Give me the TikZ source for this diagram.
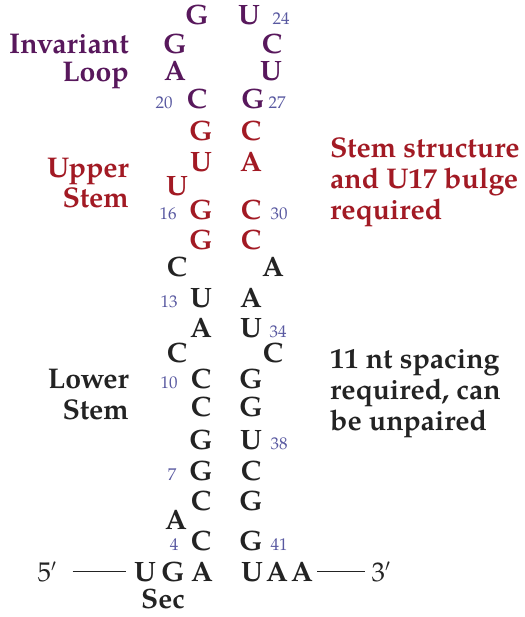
\documentclass[tikz,border=0pt]{standalone}
\usepackage{fontspec}
\setmainfont{TeX Gyre Pagella}
\definecolor{loopc}{RGB}{88,24,92}
\definecolor{stemc}{RGB}{162,26,36}
\definecolor{blk}{RGB}{35,35,35}
\definecolor{numc}{RGB}{88,88,160}
\tikzset{
  nt/.style={anchor=base, inner sep=0pt, font=\fontsize{28}{32}\selectfont\bfseries, text=blk},
  lp/.style={nt, text=loopc},
  rd/.style={nt, text=stemc},
  num/.style={anchor=base, inner sep=0pt, font=\fontsize{17}{20}\selectfont, text=numc},
  lab/.style={inner sep=0pt, font=\fontsize{28.5}{32}\selectfont\bfseries},
  labr/.style={lab, anchor=base east},
  labl/.style={lab, anchor=base west},
  endl/.style={anchor=base, inner sep=0pt, font=\fontsize{27}{30}\selectfont, text=blk},
}
\begin{document}
\begin{tikzpicture}[x=1pt,y=-1pt]
\useasboundingbox (0,0) rectangle (524,617);
% Invariant loop
\node[lp] (g22) at (197,25) {G};
\node[lp] (u24) at (249,25) {U};
\node[num] (n24) at (281,25) {24};
\node[lp] (g21) at (175,54) {G};
\node[lp] (c25) at (272,54) {C};
\node[lp] (a20x) at (175,81) {A};
\node[lp] (u26) at (271,81) {U};
\node[num] (n20) at (164,109) {20};
\node[lp] (c20) at (197,109) {C};
\node[lp] (g27) at (253,109) {G};
\node[num] (n27) at (277,109) {27};
% Upper stem
\node[rd] (g19) at (201,141) {G};
\node[rd] (c28) at (251,141) {C};
\node[rd] (u18) at (201,172) {U};
\node[rd] (a29) at (251,172) {A};
\node[rd] (u17) at (177,196) {U};
\node[num] (n16) at (168,220) {16};
\node[rd] (g16) at (201,220) {G};
\node[rd] (c30) at (251,220) {C};
\node[num] (n30) at (279,220) {30};
\node[rd] (g15) at (201,250) {G};
\node[rd] (c31) at (251,250) {C};
% Lower stem
\node[nt] (c14) at (177,276) {C};
\node[nt] (a32) at (273,276) {A};
\node[num] (n13) at (169,307) {13};
\node[nt] (u13) at (201,307) {U};
\node[nt] (a33) at (251,307) {A};
\node[nt] (a12) at (201,337) {A};
\node[nt] (u34) at (251,337) {U};
\node[num] (n34) at (278,337) {34};
\node[nt] (c11) at (177,362) {C};
\node[nt] (c35) at (273,362) {C};
\node[num] (n10) at (169,388) {10};
\node[nt] (c10) at (201,388) {C};
\node[nt] (g36) at (251,388) {G};
\node[nt] (c9) at (201,416) {C};
\node[nt] (g37) at (251,416) {G};
\node[nt] (g8) at (201,449) {G};
\node[nt] (u38) at (251,449) {U};
\node[num] (n38) at (279,449) {38};
\node[num] (n7) at (172,480) {7};
\node[nt] (g7) at (201,480) {G};
\node[nt] (c39) at (251,480) {C};
\node[nt] (c6) at (201,510) {C};
\node[nt] (g40) at (251,510) {G};
\node[nt] (a5) at (176,529) {A};
\node[num] (n4) at (174,550) {4};
\node[nt] (c4) at (201,550) {C};
\node[nt] (g41) at (251,550) {G};
\node[num] (n41) at (279,550) {41};
% bottom strand
\node[endl] (p5) at (47,581) {5$'$};
\node[nt] (b1) at (145,581) {U};
\node[nt] (b2) at (173,581) {G};
\node[nt] (b3) at (202,581) {A};
\node[nt] (b4) at (252,581) {U};
\node[nt] (b5) at (277,581) {A};
\node[nt] (b6) at (302,581) {A};
\node[endl] (p3) at (381,581) {3$'$};
\node[nt] (sec) at (163,608) {Sec};
\draw[blk, line width=1pt] ([xshift=16pt,yshift=10pt]p5.base east) -- ([xshift=-8pt,yshift=10pt]b1.base west);
\draw[blk, line width=1pt] ([xshift=4pt,yshift=10pt]b6.base east) -- ([xshift=-6pt,yshift=10pt]p3.base west);
% labels
\node[labr, text=loopc] (inv) at (129,54) {Invariant};
\node[labr, text=loopc] (loop) at (129,82) {Loop};
\node[labr, text=stemc] (upper) at (129,178) {Upper};
\node[labr, text=stemc] (ustem) at (129,208) {Stem};
\node[labr, text=blk] (lower) at (129,388) {Lower};
\node[labr, text=blk] (lstem) at (129,419) {Stem};
\node[labl, text=stemc] (r1) at (330,158) {Stem structure};
\node[labl, text=stemc] (r2) at (330,189) {and U17 bulge};
\node[labl, text=stemc] (r3) at (330,220) {required};
\node[labl, text=blk] (s1) at (330,368) {11 nt spacing};
\node[labl, text=blk] (s2) at (330,399) {required, can};
\node[labl, text=blk] (s3) at (330,430) {be unpaired};
\end{tikzpicture}
\end{document}
